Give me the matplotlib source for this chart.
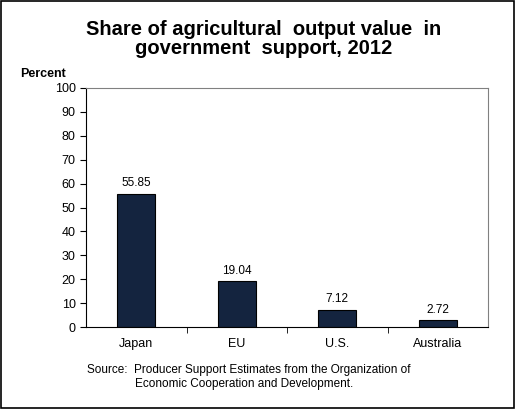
import matplotlib
matplotlib.use("Agg")
import matplotlib.pyplot as plt
from matplotlib.patches import Rectangle

categories = ["Japan", "EU", "U.S.", "Australia"]
values = [55.85, 19.04, 7.12, 2.72]
labels = ["55.85", "19.04", "7.12", "2.72"]

W, H = 515, 409
fig = plt.figure(figsize=(W/100, H/100), dpi=100)
fig.patches.append(Rectangle((0.002, 0.002), 0.996, 0.995, transform=fig.transFigure,
                             fill=False, edgecolor="black", linewidth=1.2))
ax = fig.add_axes([86/W, 1-327/H, (488-86)/W, (327-88)/H])
x = list(range(len(categories)))
ax.bar(x, values, width=0.38, color="#14243F", edgecolor="black", linewidth=0.8)
for xi, v, l in zip(x, values, labels):
    ax.text(xi, v + 2, l, ha="center", va="bottom", fontsize=8.5, family="Liberation Sans")
ax.set_xlim(-0.5, 3.5)
ax.set_ylim(0, 100)
ax.set_yticks(range(0, 101, 10))
ax.set_xticks(x)
ax.set_xticklabels(categories)
ax.set_xticks([0.5, 1.5, 2.5], minor=True)
ax.tick_params(axis="x", which="major", length=0, pad=8)
ax.tick_params(axis="x", which="minor", length=4, direction="out")
ax.tick_params(axis="y", length=4, direction="out")
for lab in ax.get_xticklabels() + ax.get_yticklabels():
    lab.set_fontsize(9); lab.set_family("Liberation Sans")
for s in ax.spines.values():
    s.set_color("#808080"); s.set_linewidth(0.8)
ax.spines["left"].set_color("black"); ax.spines["bottom"].set_color("black")
fig.text(264/W, 1-39/H, "Share of agricultural  output value  in\ngovernment  support, 2012",
         ha="center", va="center", fontsize=14.5, fontweight="bold", family="Liberation Sans",
         linespacing=1.05)
fig.text(20/W, 1-74/H, "Percent", ha="left", va="center", fontsize=9, fontweight="bold",
         family="Liberation Sans")
fig.text(87/W, 1-370/H, "Source:  Producer Support Estimates from the Organization of",
         ha="left", va="center", fontsize=8.5, family="Liberation Sans")
fig.text(135/W, 1-384/H, "Economic Cooperation and Development.",
         ha="left", va="center", fontsize=8.5, family="Liberation Sans")
fig.savefig("out.png", dpi=100)
